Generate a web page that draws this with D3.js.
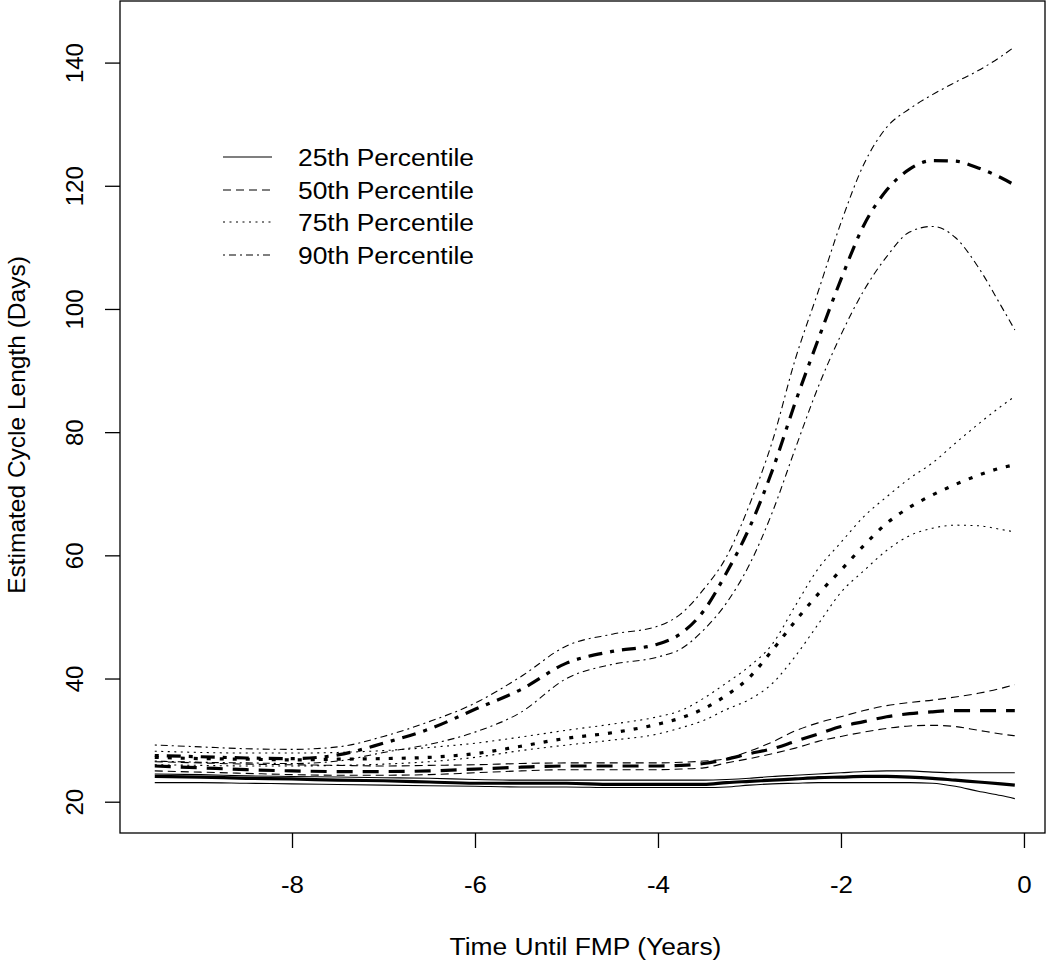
<!DOCTYPE html>
<html>
<head>
<meta charset="utf-8">
<script src="https://cdn.jsdelivr.net/npm/d3@7"></script>
<style>
  html, body { margin: 0; padding: 0; background: #fff; }
  svg { display: block; }
  text { font-family: "Liberation Sans", Arial, sans-serif; fill: #000; }
</style>
</head>
<body>
<svg id="chart" width="1050" height="964"></svg>
<script>
// ---- data ----
const years = [-9.5, -9, -8.5, -8, -7.5, -7, -6.5, -6, -5.5, -5, -4.5, -4, -3.75, -3.5, -3.25, -3, -2.75, -2.5, -2.25, -2, -1.75, -1.5, -1.25, -1, -0.75, -0.5, -0.25, -0.1];

const p25Upper  = [24.5,24.4,24.2,24.1,24.0,23.9,23.8,23.6,23.5,23.5,23.5,23.5,23.5,23.5,23.6,23.8,24.1,24.3,24.5,24.7,24.9,25.0,25.0,24.8,24.7,24.7,24.7,24.7];
const p25Center = [24.1,24.0,23.8,23.7,23.5,23.4,23.2,23.0,23.0,23.0,22.8,22.8,22.8,22.8,23.1,23.3,23.5,23.7,23.9,24.0,24.1,24.1,24.0,23.8,23.5,23.2,22.9,22.7];
const p25Lower  = [23.1,23.1,23.0,22.9,22.8,22.7,22.6,22.5,22.4,22.4,22.3,22.3,22.3,22.3,22.4,22.7,22.9,23.0,23.1,23.1,23.1,23.1,23.1,23.0,22.5,21.7,21.0,20.5];

const p50Upper  = [26.5,26.3,26.1,26.0,25.9,25.8,25.9,26.0,26.2,26.3,26.3,26.3,26.4,26.6,27.0,28.2,29.7,31.5,32.8,33.8,34.8,35.6,36.1,36.5,37.0,37.6,38.4,39.0];
const p50Center = [25.8,25.5,25.2,25.0,24.9,24.9,25.0,25.3,25.6,25.8,25.8,25.8,25.9,26.2,26.9,27.8,28.6,29.8,31.0,32.2,33.0,33.8,34.3,34.6,34.8,34.8,34.8,34.8];
const p50Lower  = [25.0,24.8,24.6,24.4,24.3,24.3,24.4,24.7,25.0,25.2,25.2,25.2,25.3,25.5,26.3,27.0,27.8,28.7,29.8,30.6,31.3,31.9,32.3,32.4,32.2,31.6,31.0,30.7];

const p75Upper  = [28.2,28.0,27.9,27.9,28.0,28.3,28.8,29.5,30.5,31.6,32.6,33.8,34.8,36.8,39.3,42.0,45.6,51.8,57.8,62.1,66.3,69.5,72.5,75.0,78.2,81.3,84.2,85.8];
const p75Center = [27.2,27.0,26.9,26.8,26.9,27.0,27.2,27.8,29.0,30.3,31.2,32.6,33.6,35.1,37.3,40.2,44.6,49.3,53.7,57.6,61.6,65.2,67.8,69.8,71.5,73.0,74.2,74.7];
const p75Lower  = [26.0,25.9,25.8,25.8,25.9,26.1,26.5,27.2,28.3,29.2,30.0,31.0,32.0,33.2,35.0,36.6,39.2,43.6,48.8,54.0,57.5,60.8,63.2,64.4,64.9,64.8,64.2,63.8];

const p90Upper  = [29.2,28.9,28.6,28.5,28.9,30.6,33.0,36.0,40.3,45.3,47.2,48.5,50.5,54.5,59.8,68.2,78.5,91.8,102.8,114.0,123.5,129.5,132.5,134.8,136.8,138.7,141.0,142.6];
const p90Center = [27.5,27.3,27.1,27.0,27.6,29.5,31.8,35.0,38.2,42.5,44.4,45.6,47.3,51.0,57.2,64.5,73.8,84.8,95.0,104.8,113.6,119.3,122.7,124.1,124.0,122.9,121.3,120.1];
const p90Lower  = [26.6,26.4,26.3,26.2,26.6,28.0,29.3,31.3,34.5,40.0,42.3,43.5,44.8,47.9,52.3,58.5,67.0,77.3,87.3,95.8,103.0,108.5,112.5,113.4,111.6,106.8,100.5,96.6];

const xTicks = [-8, -6, -4, -2, 0];
const yTicks = [20, 40, 60, 80, 100, 120, 140];
const legendLabels = ["25th Percentile", "50th Percentile", "75th Percentile", "90th Percentile"];
const xTitle = "Time Until FMP (Years)";
const yTitle = "Estimated Cycle Length (Days)";

// ---- styles ----
const thinDash  = ["", "8,5", "2,4.5", "2,4,7,4"];
const thickDash = ["", "16,10", "4,9", "4,8,14,8"];

const groups = [
  {upper: p25Upper, center: p25Center, lower: p25Lower},
  {upper: p50Upper, center: p50Center, lower: p50Lower},
  {upper: p75Upper, center: p75Center, lower: p75Lower},
  {upper: p90Upper, center: p90Center, lower: p90Lower}
];

const svg = d3.select("#chart");
const mLeft = 120, mRight = 1045, mTop = 1, mBottom = 833;

const x = d3.scaleLinear().domain([-9.88, 0.23]).range([mLeft, mRight]);
const y = d3.scaleLinear().domain([14.92, 150.0]).range([mBottom, mTop]);

const line = d3.line()
  .x((d) => x(d[0]))
  .y((d) => y(d[1]))
  .curve(d3.curveMonotoneX);

const plot = svg.append("g");
groups.forEach((g, i) => {
  [["upper", 1.1, thinDash[i]], ["lower", 1.1, thinDash[i]], ["center", 3.2, thickDash[i]]].forEach(([k, w, dash]) => {
    plot.append("path")
      .datum(years.map((yr, j) => [yr, g[k][j]]))
      .attr("d", line)
      .attr("fill", "none")
      .attr("stroke", "#000")
      .attr("stroke-width", w)
      .attr("stroke-dasharray", dash || null)
      .attr("stroke-linejoin", "round");
  });
});

// box
svg.append("rect")
  .attr("x", mLeft).attr("y", mTop)
  .attr("width", mRight - mLeft).attr("height", mBottom - mTop)
  .attr("fill", "none").attr("stroke", "#000").attr("stroke-width", 1.3);

// x axis
const xAxis = d3.axisBottom(x).tickValues(xTicks).tickSize(15).tickFormat(d3.format("d"));
const gx = svg.append("g").attr("transform", `translate(0,${mBottom})`).call(xAxis);
gx.select(".domain").remove();
gx.selectAll(".tick line").attr("stroke", "#000").attr("stroke-width", 1.3);
gx.selectAll(".tick text")
  .attr("font-size", 24)
  .attr("font-family", "Liberation Sans, Arial, sans-serif")
  .attr("fill", "#000")
  .attr("dy", null)
  .attr("y", 60)
  .attr("transform", "scale(1.08,1)")
  .text((d) => (d < 0 ? "-" + Math.abs(d) : d));

// y axis
const yAxis = d3.axisLeft(y).tickValues(yTicks).tickSize(15).tickFormat(d3.format("d"));
const gy = svg.append("g").attr("transform", `translate(${mLeft},0)`).call(yAxis);
gy.select(".domain").remove();
gy.selectAll(".tick line").attr("stroke", "#000").attr("stroke-width", 1.3);
gy.selectAll(".tick text")
  .attr("font-size", 24)
  .attr("font-family", "Liberation Sans, Arial, sans-serif")
  .attr("fill", "#000")
  .attr("x", null).attr("dy", null)
  .attr("text-anchor", "middle")
  .attr("transform", "translate(-37,0) rotate(-90)");

// titles
svg.append("text")
  .attr("transform", `translate(${(mLeft + mRight) / 2 + 3},955) scale(1.1,1)`)
  .attr("text-anchor", "middle")
  .attr("font-size", 24)
  .text(xTitle);

svg.append("text")
  .attr("transform", `translate(25,${(mTop + mBottom) / 2 + 8}) rotate(-90)`)
  .attr("text-anchor", "middle")
  .attr("font-size", 24.5)
  .text(yTitle);

// legend
const legend = svg.append("g");
const legendY = [157, 190, 222, 255];
legendLabels.forEach((lab, i) => {
  legend.append("line")
    .attr("x1", 223).attr("x2", 272)
    .attr("y1", legendY[i]).attr("y2", legendY[i])
    .attr("stroke", "#000").attr("stroke-width", 1.1)
    .attr("stroke-dasharray", thinDash[i] || null);
  legend.append("text")
    .attr("transform", `translate(298,${legendY[i] + 8.5}) scale(1.1,1)`)
    .attr("font-size", 24)
    .text(lab);
});
</script>
</body>
</html>
